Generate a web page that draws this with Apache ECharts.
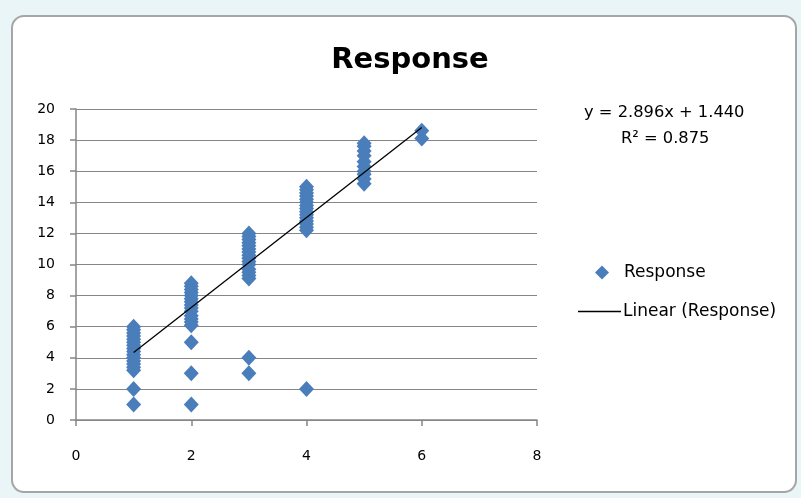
<!DOCTYPE html>
<html>
<head>
<meta charset="utf-8">
<script src="https://cdn.jsdelivr.net/npm/echarts@6/dist/echarts.min.js"></script>
<style>
html,body{margin:0;padding:0;background:#eaf5f7;}
#c{width:801px;height:498px;}
</style>
</head>
<body>
<div id="c"></div>
<script>
// Data
const xGroups = [1, 2, 3, 4, 5, 6];
const yAt1 = [1, 2, 3.2, 3.4, 3.6, 3.8, 4, 4.2, 4.4, 4.6, 4.8, 5, 5.2, 5.4, 5.6, 5.8, 6];
const yAt2 = [1, 3, 5, 6.1, 6.3, 6.5, 6.7, 7, 7.2, 7.4, 7.6, 7.8, 8, 8.2, 8.4, 8.6, 8.8];
const yAt3 = [3, 4, 9.1, 9.3, 9.5, 9.7, 10, 10.2, 10.4, 10.6, 10.8, 11, 11.2, 11.4, 11.6, 11.8, 12];
const yAt4 = [2, 12.2, 12.4, 12.6, 12.8, 13, 13.2, 13.4, 13.6, 13.8, 14, 14.2, 14.4, 14.6, 14.8, 15];
const yAt5 = [15.2, 15.5, 15.8, 16, 16.3, 16.6, 17, 17.3, 17.6, 17.8];
const yAt6 = [18.1, 18.6];
const trendX = [1, 6];
const trendY = [4.336, 18.816];
const equationText = 'y = 2.896x + 1.440';
const r2Text = 'R² = 0.875';
const titleText = 'Response';
const seriesName = 'Response';
const trendName = 'Linear (Response)';

const groups = [yAt1, yAt2, yAt3, yAt4, yAt5, yAt6];
const scatterData = [];
groups.forEach((ys, i) => ys.forEach(y => scatterData.push([xGroups[i], y])));
const trendData = trendX.map((x, i) => [x, trendY[i]]);

const font = '"DejaVu Sans", sans-serif';
const chart = echarts.init(document.getElementById('c'));
chart.setOption({
  animation: false,
  textStyle: {fontFamily: font},
  title: {
    text: titleText, left: 405, top: 41, textAlign: 'center',
    textStyle: {fontSize: 29, fontWeight: 'bold', color: '#000', fontFamily: font}
  },
  graphic: [
    {type: 'rect', z: -10, silent: true, shape: {x: 12, y: 16, width: 784, height: 476, r: 12},
     style: {fill: '#fff', stroke: '#a6a6a6', lineWidth: 2}},
    {type: 'text', left: 584, top: 105, style: {text: equationText, fontSize: 16.3, fontFamily: font, fill: '#000'}},
    {type: 'text', left: 621, top: 131, style: {text: r2Text, fontSize: 16.3, fontFamily: font, fill: '#000'}}
  ],
  legend: [
    {data: [seriesName], left: 590, top: 259, icon: 'diamond', itemWidth: 14, itemHeight: 14, itemGap: 10,
     textStyle: {fontSize: 17, color: '#000', fontFamily: font, padding: [0, 0, 0, 10]}},
    {data: [trendName], left: 573, top: 298, icon: 'rect', itemWidth: 43, itemHeight: 1.5, itemGap: 3,
     textStyle: {fontSize: 17, color: '#000', fontFamily: font, padding: [0, 0, 0, -3]}}
  ],
  grid: {left: 76, right: 264, top: 109, bottom: 78},
  xAxis: {
    type: 'value', min: 0, max: 8, interval: 2,
    axisLine: {show: true, lineStyle: {color: '#868686', width: 1.5}},
    axisTick: {show: true, length: 6, lineStyle: {color: '#868686', width: 1.5}},
    axisLabel: {color: '#000', fontSize: 14, margin: 29, fontFamily: font},
    splitLine: {show: false}
  },
  yAxis: {
    type: 'value', min: 0, max: 20, interval: 2,
    axisLine: {show: true, lineStyle: {color: '#868686', width: 1.5}},
    axisTick: {show: true, length: 6, lineStyle: {color: '#868686', width: 1.5}},
    axisLabel: {color: '#000', fontSize: 14, margin: 21, fontFamily: font},
    splitLine: {show: true, lineStyle: {color: '#868686', width: 1.2}}
  },
  series: [
    {name: seriesName, type: 'scatter', data: scatterData, symbol: 'diamond', symbolSize: [15, 16],
     itemStyle: {color: '#4a7ebb', opacity: 1}, z: 2},
    {name: trendName, type: 'line', data: trendData, symbol: 'none', showSymbol: false,
     lineStyle: {color: '#000', width: 1.3}, itemStyle: {color: '#000'}, z: 3}
  ]
});
</script>
</body>
</html>
